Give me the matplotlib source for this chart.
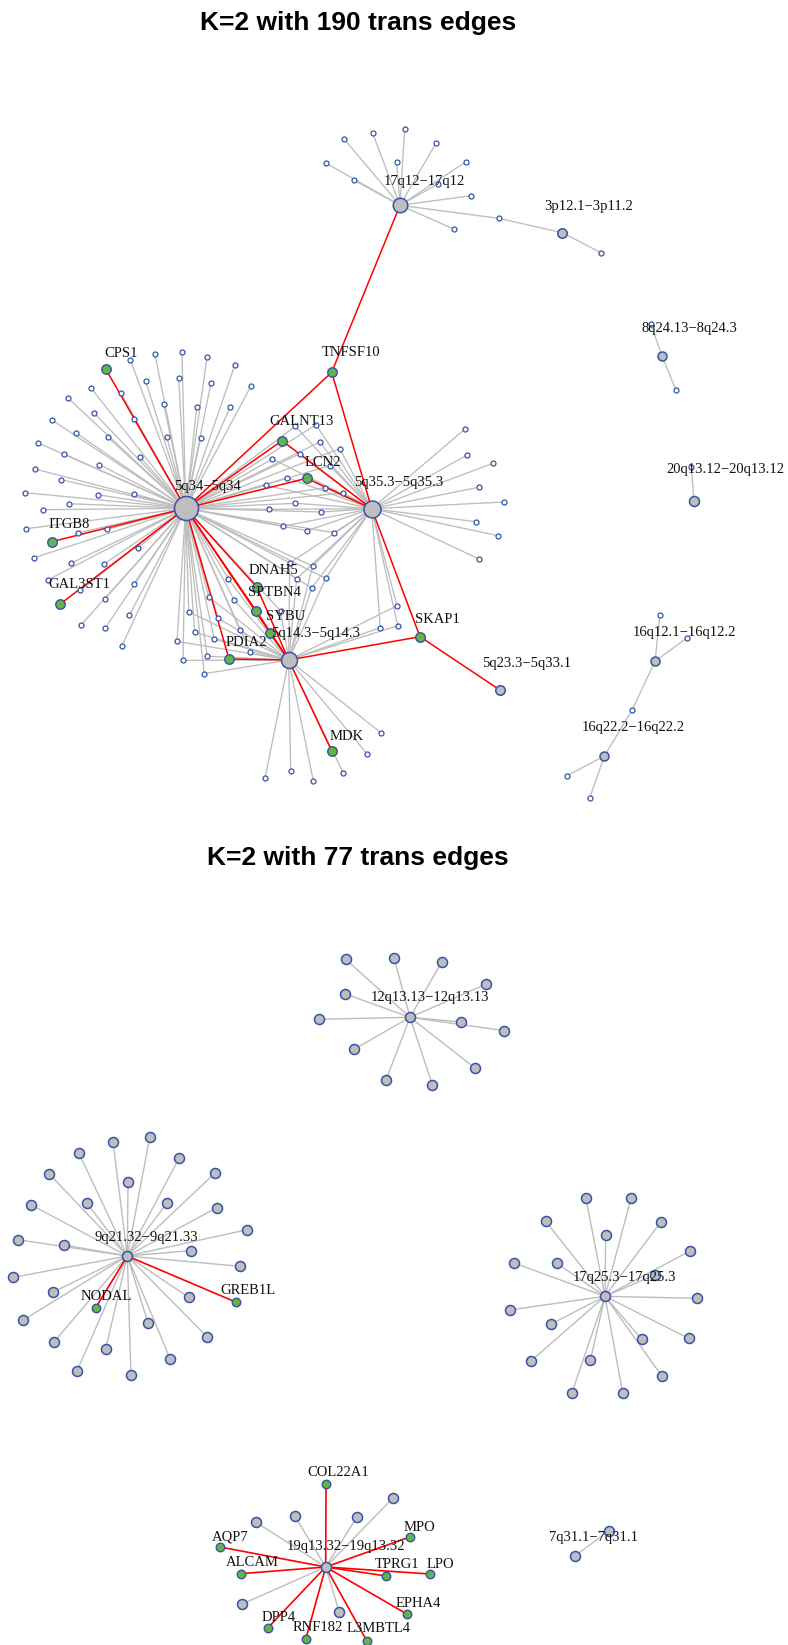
import numpy as np
import matplotlib
matplotlib.use("Agg")
import matplotlib.pyplot as plt

plt.rcParams["font.family"] = ["Liberation Serif", "DejaVu Serif"]

# ---------------- panel 1 : K=2 with 190 trans edges ----------------
top_title = "K=2 with 190 trans edges"
# hubs (a..j), layout coordinates
top_hub_codes = list("abcdefghij")
top_hub_names = ["5q34−5q34", "5q35.3−5q35.3", "5q14.3−5q14.3", "17q12−17q12",
                 "3p12.1−3p11.2", "8q24.13−8q24.3", "20q13.12−20q13.12",
                 "16q12.1−16q12.2", "16q22.2−16q22.2", "5q23.3−5q33.1"]
top_hub_x = [185.7, 371.7, 288.7, 400.0, 562.3, 662.0, 694.0, 655.0, 604.4, 500.5]
top_hub_y = [508.3, 508.7, 660.0, 205.3, 232.7, 356.0, 500.5, 661.2, 756.0, 690.4]
top_hub_size = [24, 17, 16, 14.5, 9.5, 9, 10, 9, 9, 9.5]

# genes that carry the trans edges (green)
top_gene_names = ["CPS1", "TNFSF10", "GALNT13", "LCN2", "ITGB8", "GAL3ST1",
                  "DNAH5", "SPTBN4", "SYBU", "PDIA2", "MDK", "SKAP1"]
top_gene_x = [105.7, 331.7, 282.0, 306.7, 51.7, 60.3, 256.7, 256.3, 270.0, 229.0, 331.7, 420.0]
top_gene_y = [369.0, 372.3, 440.7, 478.3, 541.7, 604.0, 587.0, 611.0, 632.7, 659.0, 751.0, 636.7]
top_gene_links = ["a", "abd", "ab", "ab", "a", "a", "ac", "ac", "ac", "ac", "c", "bcj"]

# other genes, grouped by the hubs they connect to
nodes_a = [(130.3, 360), (155, 354.3), (182, 352.3), (207, 357.3), (234.7, 365.3), (251, 386),
           (145.7, 381.3), (178.7, 377.7), (211, 383), (91, 388), (67.7, 397.7), (120.7, 392.7),
           (163.7, 404), (196.7, 407.3), (230, 407.3), (94, 413), (133.7, 418.7), (52.3, 420.3),
           (108, 437.3), (166.7, 436.7), (200.7, 438), (75.7, 432.7), (38.3, 443), (64, 454),
           (140, 457), (99.3, 464.7), (35, 469), (61, 479.7), (25.3, 492.7), (97.7, 494.7),
           (133.7, 493.7), (69, 503.7), (43.3, 509.7), (26, 528.7), (78, 533), (107.3, 529.3),
           (34.3, 557.7), (138.3, 547.7), (71, 563.3), (103.7, 564.3), (48.3, 579.7), (134, 583.7),
           (80, 590.3), (105, 598.7), (129.3, 615.3), (80.7, 625.3), (105, 628.3), (122, 645.7)]
nodes_ab = [(295.3, 426.3), (316, 424.7), (319.7, 442), (339.7, 448.7), (272.3, 459), (300, 453.7),
            (329.7, 465.7), (287.3, 477.7), (265.7, 485.3), (325.3, 487.7), (343.3, 493),
            (295, 503.3), (268.7, 509.3), (321.3, 512), (282.7, 526.3), (306.7, 530.7), (334, 532.7)]
nodes_abc = [(289.7, 563), (312.7, 566), (325.7, 578.3), (296.7, 578.7), (311.7, 588)]
nodes_ac = [(228.3, 578.7), (208.7, 596.7), (234.3, 600.3), (188.7, 611.7), (218, 618.3),
            (240, 630.3), (194.7, 632.3), (214.3, 639.3), (177, 641.3), (207.3, 656.3),
            (250.3, 651.7), (183, 660.3), (204.3, 673.7), (280.7, 611)]
nodes_bc = [(397, 605.7), (380.3, 627.7), (397.7, 625.7)]
nodes_c = [(381.3, 733), (367, 753.7), (343.3, 773), (313.3, 780.7), (290.7, 771.3), (265, 778.3)]
nodes_b = [(465.3, 428.7), (467, 455), (493, 463.3), (478.7, 487.3), (504, 502), (476, 521.7),
           (498, 535.7), (479, 559)]
nodes_d = [(326.3, 163.3), (344.3, 139.3), (372.7, 133.3), (404.7, 128.7), (436.3, 142.7),
           (396.7, 161.7), (465.7, 162), (354.3, 180.3), (438.3, 183.7), (471, 195.7), (454.3, 229.3)]
nodes_de = [(498.7, 218.3)]
nodes_e = [(601, 252.7)]
nodes_f = [(650.7, 323.8), (676, 390.1)]
nodes_g = [(691.3, 467)]
nodes_h = [(660, 615), (687.3, 637.8)]
nodes_hi = [(632.3, 709.7)]
nodes_i = [(567.3, 775.6), (589.7, 798)]
top_groups = [(nodes_a, "a"), (nodes_ab, "ab"), (nodes_abc, "abc"), (nodes_ac, "ac"),
              (nodes_bc, "bc"), (nodes_c, "c"), (nodes_b, "b"), (nodes_d, "d"),
              (nodes_de, "de"), (nodes_e, "e"), (nodes_f, "f"), (nodes_g, "g"),
              (nodes_h, "h"), (nodes_hi, "hi"), (nodes_i, "i")]

# ---------------- panel 2 : K=2 with 77 trans edges ----------------
bot_title = "K=2 with 77 trans edges"
bot_hub_names = ["9q21.32−9q21.33", "12q13.13−12q13.13", "17q25.3−17q25.3",
                 "19q13.32−19q13.32", "7q31.1−7q31.1"]
bot_hub_x = [127.3, 410.0, 605.0, 325.7, 575.3]
bot_hub_y = [1256.0, 1017.3, 1296.3, 1567.0, 1555.7]

hub9_nodes = [(149.7, 1137.3), (113, 1142.3), (179, 1158.3), (79, 1153.3), (215.3, 1172.7),
              (49.3, 1174), (128, 1181.7), (31.3, 1205), (86.7, 1203), (167.3, 1202.7),
              (216.7, 1207.7), (247, 1229.7), (17.7, 1239.7), (64, 1245), (191, 1250.7),
              (239.7, 1266.3), (13.3, 1277.3), (52.7, 1292.3), (188.7, 1297.3), (23.3, 1320),
              (148, 1323), (207, 1336.7), (54, 1342), (105.7, 1348.7), (170.3, 1359.3),
              (77, 1371), (131, 1375.3)]
hub12_nodes = [(345.7, 959.3), (394, 957.7), (441.7, 962), (486.3, 984), (345.3, 994),
               (318.7, 1019.3), (461.3, 1022), (504.3, 1030.7), (354, 1049.3), (475, 1068),
               (386, 1080), (432.3, 1084.7)]
hub17_nodes = [(585.7, 1197.7), (631, 1198.3), (545.7, 1221.3), (660.7, 1222.3), (605.7, 1235),
               (690, 1251), (514, 1263), (556.7, 1263.3), (654.7, 1275), (696.7, 1298.3),
               (509.7, 1310), (550.7, 1324.3), (641.7, 1339.3), (688.7, 1338.3), (531, 1361),
               (590.3, 1360.3), (662, 1376.3), (571.7, 1393.3), (622.7, 1393)]
hub19_nodes = [(392.7, 1498.3), (255.7, 1522), (295, 1516.3), (357, 1516.7), (242.3, 1604),
               (339.3, 1612)]
hub7_nodes = [(609, 1530.7)]
bot_groups = [hub9_nodes, hub12_nodes, hub17_nodes, hub19_nodes, hub7_nodes]

bot_gene_names = ["NODAL", "GREB1L", "COL22A1", "MPO", "AQP7", "ALCAM", "TPRG1", "LPO",
                  "EPHA4", "DPP4", "RNF182", "L3MBTL4"]
bot_gene_x = [95.7, 236.3, 326.0, 409.7, 220.0, 241.0, 386.3, 430.3, 407.3, 268.0, 305.7, 366.7]
bot_gene_y = [1307.7, 1302.3, 1484.3, 1537.0, 1547.0, 1573.7, 1576.0, 1574.0, 1614.3, 1627.7,
              1639.3, 1640.7]
bot_gene_hub = [0, 0, 3, 3, 3, 3, 3, 3, 3, 3, 3, 3]

# ---------------- drawing ----------------
GREY_EDGE = "#BDBDBD"
RED = "#FF0000"
FRAME = "#3553A8"
GREY_FILL = "#BEBEBE"
GREEN = "#62B544"

fig = plt.figure(figsize=(7.88, 16.45), dpi=100)
ax = fig.add_axes([0, 0, 1, 1])
ax.set_xlim(0, 788)
ax.set_ylim(1645, 0)
ax.axis("off")

px = 0.72  # points per pixel at 100 dpi
hub_pos = {c: (x, y) for c, x, y in zip(top_hub_codes, top_hub_x, top_hub_y)}

# grey edges, panel 1
for nodes, links in top_groups:
    for (x, y) in nodes:
        for c in links:
            hx, hy = hub_pos[c]
            ax.plot([x, hx], [y, hy], color=GREY_EDGE, lw=0.95, zorder=1)
# red trans edges, panel 1
for x, y, links in zip(top_gene_x, top_gene_y, top_gene_links):
    for c in links:
        hx, hy = hub_pos[c]
        ax.plot([x, hx], [y, hy], color=RED, lw=1.1, zorder=2)

# nodes, panel 1
for nodes, _ in top_groups:
    xs, ys = zip(*nodes)
    ax.plot(xs, ys, "o", ms=5 * px, mfc="white", mec=FRAME, mew=0.9, zorder=3)
ax.plot(top_gene_x, top_gene_y, "o", ms=9.5 * px, mfc=GREEN, mec=FRAME, mew=1.0, zorder=4)
for x, y, s in zip(top_hub_x, top_hub_y, top_hub_size):
    ax.plot(x, y, "o", ms=s * px, mfc=GREY_FILL, mec=FRAME, mew=1.1, zorder=4)

# labels, panel 1
def top_off(name):
    return 11 + 1.2 * len(name)

for n, x, y in zip(top_hub_names + top_gene_names, top_hub_x + top_gene_x, top_hub_y + top_gene_y):
    d = top_off(n)
    ax.text(x + d, y - d, n, fontsize=10.5, ha="center", va="center", color="#111111", zorder=6)

# panel 2 edges
for (hx, hy), nodes in zip(zip(bot_hub_x, bot_hub_y), bot_groups):
    for (x, y) in nodes:
        ax.plot([x, hx], [y, hy], color=GREY_EDGE, lw=1.0, zorder=1)
for x, y, h in zip(bot_gene_x, bot_gene_y, bot_gene_hub):
    ax.plot([x, bot_hub_x[h]], [y, bot_hub_y[h]], color=RED, lw=1.2, zorder=2)

for nodes in bot_groups:
    xs, ys = zip(*nodes)
    ax.plot(xs, ys, "o", ms=10 * px, mfc=GREY_FILL, mec=FRAME, mew=1.1, zorder=3)
ax.plot(bot_gene_x, bot_gene_y, "o", ms=8.5 * px, mfc=GREEN, mec=FRAME, mew=1.0, zorder=4)
ax.plot(bot_hub_x, bot_hub_y, "o", ms=10 * px, mfc=GREY_FILL, mec=FRAME, mew=1.1, zorder=4)

def bot_off(name, hub):
    return 8 + 0.6 * len(name) + (2 if hub else 0)

for n, x, y in zip(bot_hub_names, bot_hub_x, bot_hub_y):
    d = bot_off(n, True)
    ax.text(x + d, y - d, n, fontsize=10.5, ha="center", va="center", color="#111111", zorder=6)
for n, x, y in zip(bot_gene_names, bot_gene_x, bot_gene_y):
    d = bot_off(n, False)
    ax.text(x + d, y - d, n, fontsize=10.5, ha="center", va="center", color="#111111", zorder=6)

# titles
for t, yb in [(top_title, 30), (bot_title, 865)]:
    ax.text(358, yb, t, fontsize=19, fontweight="bold", family=["Liberation Sans", "DejaVu Sans"],
            ha="center", va="baseline")

fig.savefig("out.png", dpi=100)
